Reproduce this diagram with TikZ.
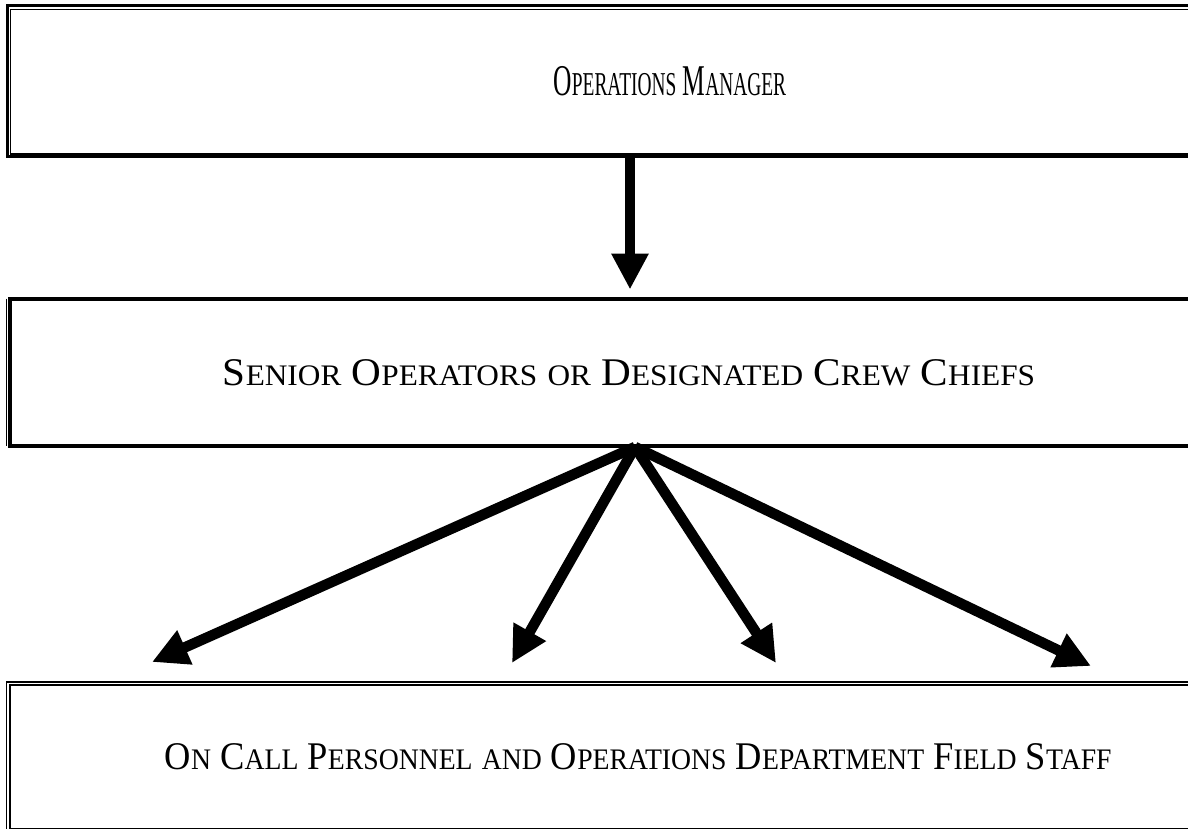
\documentclass[tikz,border=0pt]{standalone}
\usepackage{fontspec}
\setmainfont{Liberation Serif}
\usetikzlibrary{arrows.meta}
% smaller capitals for the small-caps look
\newcommand{\sm}[1]{{\fontsize{14.9pt}{18pt}\selectfont #1}}

\begin{document}
\begin{tikzpicture}
    [
		x=0.5pt, y=-0.5pt,
		chart/.style={
			inner sep=0pt, outer sep=0pt, align=center,
			font=\fontsize{19.6pt}{22pt}\selectfont
		},
		flow/.style={
			line width=5.25pt, -{Triangle[length=18pt, width=17.5pt]}
		}
	]

\useasboundingbox (0,0) rectangle (1188,829);

% Boxes
\node (manager) [chart, draw, line width=1.5pt, minimum width=662.25pt,
	minimum height=75.25pt] at (669.75,81.25)
	{\scalebox{0.65}[1.12]{O\sm{PERATIONS} M\sm{ANAGER}}};
\node (senior) [chart, minimum width=619pt, minimum height=73.75pt]
	at (629,372.25)
	{\scalebox{1.05}[1]{S\sm{ENIOR} O\sm{PERATORS} \sm{OR} D\sm{ESIGNATED}
	C\sm{REW} C\sm{HIEFS}}};
\node (staff) [chart, draw, line width=0.9pt, minimum width=631.75pt,
	minimum height=75pt] at (638.25,757)
	{\scalebox{0.93}[1]{O\sm{N} C\sm{ALL} P\sm{ERSONNEL} \sm{AND}
	O\sm{PERATIONS} D\sm{EPARTMENT} F\sm{IELD} S\sm{TAFF}}};

% Double borders
\draw [line width=0.75pt]
	([shift={(3,3.5)}]manager.north west) rectangle
	([shift={(-3,-2.5)}]manager.south east);
\draw [line width=2pt]
	(senior.north east) -- (senior.north west)
	-- (senior.south west) -- (senior.south east);
\draw [line width=0.75pt]
	([xshift=-1.75pt]senior.north west) -- ([xshift=-1.75pt]senior.south west);
\draw [line width=0.9pt]
	([shift={(3.5,3)}]staff.north west) rectangle
	([shift={(-3.5,-3)}]staff.south east);

% Arrows
\coordinate (hub) at (635,447);
\coordinate (c1) at (152,662);
\coordinate (c2) at (512,663);
\coordinate (c3) at (776,663);
\coordinate (c4) at (1091,666);

\draw [flow, shorten >=4.5pt]
	([xshift=-2.5pt]manager.south -| hub) -- ([xshift=-2.5pt]senior.north -| hub);

\foreach \c in {c1, c2, c3, c4}
	\draw [flow] (hub) -- (\c);

\end{tikzpicture}
\end{document}
